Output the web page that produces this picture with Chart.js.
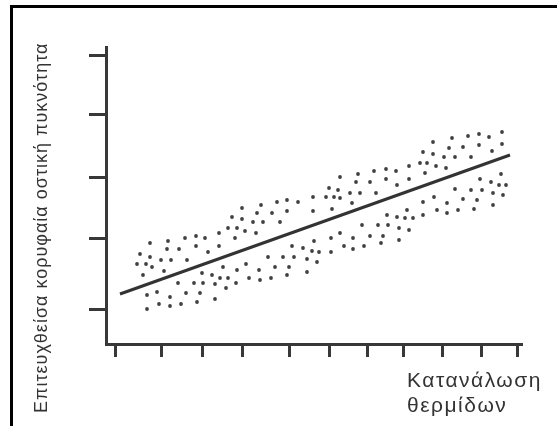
<!DOCTYPE html>
<html lang="el">
<head>
<meta charset="utf-8">
<title>Κατανάλωση θερμίδων και οστική πυκνότητα</title>
<script src="https://cdn.jsdelivr.net/npm/chart.js@4.4.1/dist/chart.umd.min.js"></script>
<style>
  html, body { margin: 0; padding: 0; background: #fff; }
  #wrap { position: relative; width: 557px; height: 426px; overflow: hidden; }
  #frame {
    position: absolute; left: 10px; top: 5px; right: -10px; bottom: -10px;
    border-top: 3px solid #000; border-left: 3px solid #000;
  }
  #chart { position: absolute; left: 0; top: 0; }
</style>
</head>
<body>
<div id="wrap">
  <div id="frame"></div>
  <canvas id="chart" width="557" height="426"></canvas>
</div>
<script>
"use strict";

const Y_TITLE = "Επιτευχθείσα κορυφαία οστική πυκνότητα";
const X_TITLE = ["Κατανάλωση", "θερμίδων"];

// axis ranges and (hand drawn, uneven) tick marks, arbitrary units
const X_RANGE = [0, 104];
const Y_RANGE = [0, 74.25];
const X_TICKS = [2.25, 13.75, 24, 34, 45.75, 55.75, 65.25, 74.25, 84, 93.75, 102.75];
const Y_TICKS = [8.75, 26.25, 41.75, 57.25, 72];

// scatter dots
const dotX = [
  11, 8.5, 7.75, 10, 11, 11.5, 9.25, 15.5, 15.25, 13.75, 16.25, 14.5, 18.25, 19.75, 22.5,
  22.5, 24.75, 20.25, 25.5, 28.25, 28.25, 32.25, 31.5, 34, 34, 30.5, 32.75, 34.75, 36.75,
  37.75, 38.75, 39.25, 41.5, 42.75, 45.25, 48, 45.25, 43.5, 37.5, 46.5, 47, 44.25, 40.5,
  42.25, 45.75, 45.25, 41.25, 38.5, 38.25, 35, 35.75, 32.75, 32.5, 30.5, 29.25, 28.5, 27.25,
  26.5, 30, 24, 24.25, 22, 18, 20, 23.5, 27.25, 22.75, 18.75, 16, 16, 13.25, 12.75, 10.25,
  10.25, 58.5, 63, 67, 70, 72.5, 75.75, 78.5, 80.25, 79.25, 81.75, 81.75, 82.5, 85, 84.5,
  85.75, 86.5, 87.25, 89.25, 90.5, 93.25, 95.75, 99, 93.25, 96.5, 99, 91.25, 79.75, 75.75,
  70, 66, 62.5, 58, 55.75, 58.5, 61, 63.5, 67.5, 72.75, 55, 57, 51.75, 51.75, 56.5, 61.5,
  93.5, 96.25, 98.75, 98.25, 100, 87.25, 91.25, 94, 96.75, 99.25, 82, 89.25, 92.75, 85.25,
  79.25, 82.75, 85.25, 88, 92, 96.75, 75.25, 74.75, 76.75, 79.25, 72.75, 70.25, 73.25,
  75.75, 70.5, 68, 64, 69.25, 66, 68.75, 73.25, 61.75, 58.5, 56.25, 59.5, 61.75, 64.5, 52,
  49.25, 51.5, 53.25, 56.25, 50.25, 52.75, 50.25,
];
const dotY = [
  25.25, 22.5, 20, 20, 21.75, 19.25, 17.25, 25.75, 23.75, 21, 21, 18.25, 23.75, 26.5, 27,
  24.5, 26.5, 21, 23, 27.75, 24.5, 26.5, 31.75, 34, 31.25, 29, 29, 28.25, 30.5,
  32.75, 34.75, 30.5, 32.75, 35.5, 36, 35.5, 33.25, 30.5, 27.75, 24.5, 21.75, 21.75, 21.75,
  19.25, 19.25, 17.25, 16.5, 16, 18.5, 20, 16.5, 18.5, 15.25, 16.5, 19.25, 16.5, 15,
  17.25, 14, 17.75, 15.25, 15.25, 15.25, 12.75, 12.75, 11.25, 10.5, 10, 11.75, 9.5, 10, 13, 12.25,
  8.75, 41.75, 42.5, 43.25, 43.75, 43.25, 44.5, 45.25, 45.25, 48, 50.5, 47.5, 44.5, 44, 46.75,
  49, 51.5, 46.75, 49.25, 52, 52.5, 51.75, 53, 49.75, 48.25, 50, 46.75, 42.75, 41.25,
  41.25, 40.5, 40.5, 38.5, 39, 36.5, 37.75, 37.75, 37.75, 39.75, 36.75, 36.75, 36.75, 33.25, 33.75, 35.25,
  41.25, 40.5, 42.5, 39.75, 39.75, 38.75, 38.5, 38.5, 37.75, 37.25, 36.75, 36.25, 36, 35.25,
  35.5, 33.5, 32.75, 33.5, 33.75, 34.75, 33.5, 31.5, 31.5, 32.25, 31.75, 32.25, 29,
  28.5, 29.75, 29.75, 29.75, 27, 27, 25.25, 26, 26.5, 27.75, 26.5, 24.5, 23.75, 24.5, 25.75,
  24, 23.25, 23, 23, 21.25, 20.5, 18,
];

// fitted trend line end points
const lineX = [3.5, 101];
const lineY = [12.5, 47.25];

const INK = "#383838";
const FAMILY = '"Liberation Sans", Arial, sans-serif';

const labelsPlugin = {
  id: "labels",
  afterDraw(chart) {
    const ctx = chart.ctx;
    ctx.save();
    ctx.fillStyle = "#333";
    ctx.textBaseline = "alphabetic";
    ctx.textAlign = "left";
    // rotated y title, reading bottom to top
    ctx.save();
    ctx.font = "18px " + FAMILY;
    ctx.letterSpacing = "1px";
    ctx.translate(47, 413);
    ctx.rotate(-Math.PI / 2);
    ctx.fillText(Y_TITLE, 0, 0);
    ctx.restore();
    // two line x title at the lower right
    ctx.font = "21px " + FAMILY;
    ctx.letterSpacing = "1.5px";
    X_TITLE.forEach((t, i) => ctx.fillText(t, 407, 387 + i * 25));
    ctx.restore();
  },
};

function axis(range, ticks, tickLength) {
  return {
    type: "linear",
    min: range[0],
    max: range[1],
    afterBuildTicks: (a) => { a.ticks = ticks.map((v) => ({ value: v })); },
    ticks: { display: false },
    grid: {
      drawOnChartArea: false,
      drawTicks: true,
      tickLength,
      tickWidth: 3,
      tickColor: INK,
    },
    border: { display: true, color: INK, width: 3 },
  };
}

new Chart(document.getElementById("chart"), {
  type: "scatter",
  data: {
    datasets: [
      {
        data: dotX.map((x, i) => ({ x, y: dotY[i] })),
        pointRadius: 1.9,
        pointBackgroundColor: "#404040",
        pointBorderWidth: 0,
      },
      {
        data: lineX.map((x, i) => ({ x, y: lineY[i] })),
        showLine: true,
        borderColor: "#333",
        borderWidth: 3,
        pointRadius: 0,
      },
    ],
  },
  options: {
    responsive: false,
    animation: false,
    layout: { padding: { left: 89, top: 47, right: 35, bottom: 69 } },
    scales: {
      x: axis(X_RANGE, X_TICKS, 13),
      y: axis(Y_RANGE, Y_TICKS, 17),
    },
    plugins: {
      legend: { display: false },
      tooltip: { enabled: false },
    },
  },
  plugins: [labelsPlugin],
});
</script>
</body>
</html>
